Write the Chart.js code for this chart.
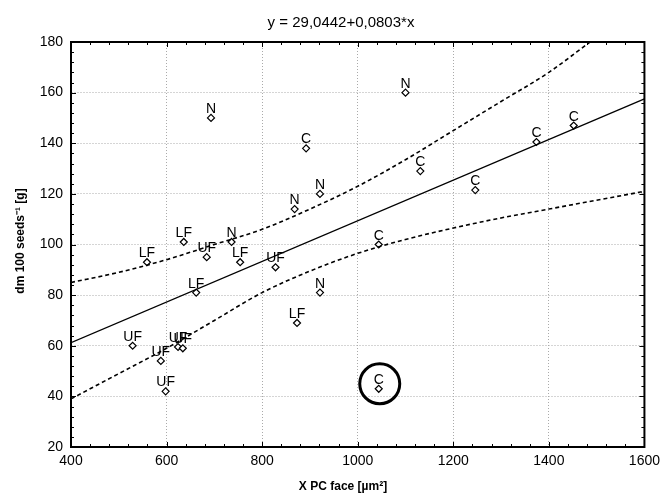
<!DOCTYPE html>
<html><head><meta charset="utf-8">
<script src="https://cdn.jsdelivr.net/npm/chart.js@4/dist/chart.umd.min.js"></script>
<style>html,body{margin:0;padding:0;background:#fff;}#wrap{width:666px;height:498px;position:relative;}</style>
</head><body><div id="wrap"><canvas id="c" width="666" height="498"></canvas></div>
<script>
// ---- data ----
const titleText = 'y = 29,0442+0,0803*x';
const xAxisTitle = 'X PC face [µm²]';
const yAxisTitle = 'dm 100 seeds⁻¹ [g]';
const xTicks = [400, 600, 800, 1000, 1200, 1400, 1600];
const yTicks = [20, 40, 60, 80, 100, 120, 140, 160, 180];

const pointX = [693, 892, 921, 868, 1100, 1131, 1246, 1374, 1452, 636, 559, 684, 736, 754, 828, 662, 921, 873, 529, 624, 634, 588, 598, 1044, 1044];
const pointY = [150, 138, 120, 114, 160, 129, 121.5, 140.5, 147, 101, 93, 95, 101, 93, 91, 81, 81, 69, 60, 59.5, 59, 54, 42, 100, 43];
const pointGroup = ['N', 'C', 'N', 'N', 'N', 'C', 'C', 'C', 'C', 'LF', 'LF', 'UF', 'N', 'LF', 'UF', 'LF', 'N', 'LF', 'UF', 'UF', 'UF', 'UF', 'UF', 'C', 'C'];
const circledIndex = 24;

const fitX = [400, 1600];
const fitY = [61.2, 157.5];
const upperX = [400, 500, 600, 700, 800, 900, 1000, 1100, 1200, 1300, 1400, 1486];
const upperY = [85, 89, 94, 100, 106, 114, 123, 133.5, 145, 156.5, 168, 180];
const lowerX = [400, 500, 600, 700, 800, 900, 1000, 1100, 1200, 1300, 1400, 1500, 1600];
const lowerY = [39, 49, 59, 70, 81, 89.5, 96.5, 102, 106.5, 110.5, 114, 117.5, 121];

const xy = (xs, ys) => xs.map((v, i) => ({x: v, y: ys[i]}));
const FONT = '"Liberation Sans", Arial, sans-serif';

const decor = {
  id: 'decor',
  afterDatasetsDraw(chart) {
    const {ctx, chartArea: a, scales: {x, y}} = chart;
    ctx.save();
    // minor + major ticks on all sides (inward)
    ctx.strokeStyle = '#000'; ctx.lineWidth = 1;
    ctx.beginPath();
    for (let v = 400; v <= 1600; v += 40) {
      const px = Math.round(x.getPixelForValue(v)) + 0.5;
      const L = (v % 200 === 0) ? 5 : 3;
      ctx.moveTo(px, a.bottom); ctx.lineTo(px, a.bottom - L);
      ctx.moveTo(px, a.top); ctx.lineTo(px, a.top + L);
    }
    for (let v = 20; v <= 180; v += 4) {
      const py = Math.round(y.getPixelForValue(v)) + 0.5;
      const L = (v % 20 === 0) ? 5 : 3;
      ctx.moveTo(a.left, py); ctx.lineTo(a.left + L, py);
      ctx.moveTo(a.right, py); ctx.lineTo(a.right - L, py);
    }
    ctx.stroke();
    // frame
    ctx.lineWidth = 2;
    ctx.strokeRect(a.left, a.top, a.right - a.left, a.bottom - a.top);
    // point labels
    const meta = chart.getDatasetMeta(3);
    ctx.font = '14px ' + FONT;
    ctx.fillStyle = '#000'; ctx.textAlign = 'center'; ctx.textBaseline = 'alphabetic';
    meta.data.forEach((el, i) => ctx.fillText(pointGroup[i], el.x, el.y - 5));
    // circled point
    const el = meta.data[circledIndex];
    ctx.beginPath(); ctx.lineWidth = 3;
    ctx.arc(el.x + 1, el.y - 5, 20, 0, Math.PI * 2); ctx.stroke();
    // titles
    ctx.font = '15px ' + FONT; ctx.textBaseline = 'middle';
    ctx.fillText(titleText, 341, 23);
    ctx.font = 'bold 12px ' + FONT;
    ctx.fillText(xAxisTitle, 343, 487);
    ctx.translate(21, 241); ctx.rotate(-Math.PI / 2);
    ctx.fillText(yAxisTitle, 0, 0);
    ctx.restore();
  }
};

new Chart(document.getElementById('c'), {
  type: 'scatter',
  data: {
    datasets: [
      {data: xy(fitX, fitY), showLine: true, borderColor: '#000', borderWidth: 1.3, pointRadius: 0, fill: false},
      {data: xy(upperX, upperY), showLine: true, borderColor: '#000', borderWidth: 1.6, borderDash: [4, 3], pointRadius: 0, cubicInterpolationMode: 'monotone', fill: false},
      {data: xy(lowerX, lowerY), showLine: true, borderColor: '#000', borderWidth: 1.6, borderDash: [4, 3], pointRadius: 0, cubicInterpolationMode: 'monotone', fill: false},
      {data: xy(pointX, pointY), pointStyle: 'rectRot', pointRadius: 3.5, pointBackgroundColor: '#fff', pointBorderColor: '#000', pointBorderWidth: 1.2}
    ]
  },
  options: {
    responsive: false, animation: false, devicePixelRatio: 1,
    layout: {padding: {left: 0, right: 18, top: 42, bottom: 0}},
    plugins: {legend: {display: false}, tooltip: {enabled: false}, title: {display: false}},
    scales: {
      x: {
        type: 'linear', min: 400, max: 1600,
        afterBuildTicks: s => { s.ticks = xTicks.map(v => ({value: v})); },
        afterFit: s => { s.height = 51; },
        ticks: {font: {family: FONT, size: 14}, color: '#000', padding: 6, callback: v => String(v)},
        grid: {color: '#aaa', lineWidth: 1, drawTicks: false},
        border: {display: true, color: '#000', width: 1.5, dash: [1, 2]}
      },
      y: {
        type: 'linear', min: 20, max: 180,
        afterBuildTicks: s => { s.ticks = yTicks.map(v => ({value: v})); },
        afterFit: s => { s.width = 71; },
        ticks: {font: {family: FONT, size: 14}, color: '#000', padding: 8, callback: v => String(v)},
        grid: {color: '#aaa', lineWidth: 1, drawTicks: false},
        border: {display: true, color: '#000', width: 1.5, dash: [1, 2]}
      }
    }
  },
  plugins: [decor]
});
</script></body></html>
